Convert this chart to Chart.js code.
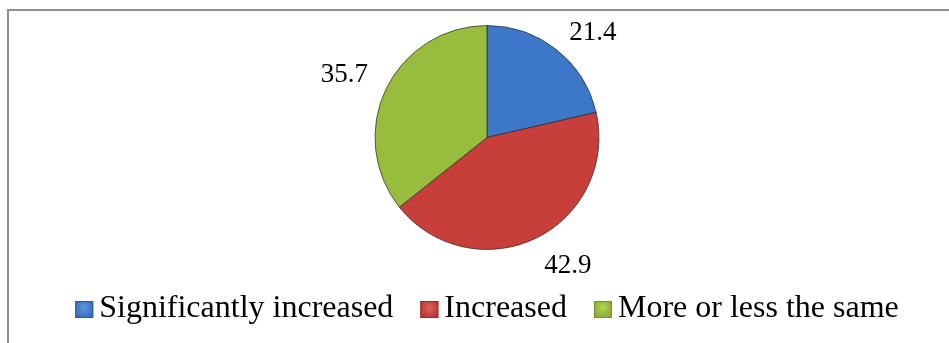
<!DOCTYPE html>
<html>
<head>
<meta charset="utf-8">
<script src="https://cdn.jsdelivr.net/npm/chart.js@4.4.1/dist/chart.umd.min.js"></script>
<style>
  html, body { margin: 0; padding: 0; background: #fff; }
  #wrap { position: relative; width: 949px; height: 343px; overflow: hidden; }
  #frame { position: absolute; left: 7px; top: 9px; width: 980px; height: 380px; border: 2px solid #8e8e8e; }
  #pie { position: absolute; left: 0; top: 0; }
</style>
</head>
<body>
<div id="wrap">
  <div id="frame"></div>
  <canvas id="pie" width="949" height="343"></canvas>
</div>
<script>
// categories and values
var categorias = ["Significantly increased", "Increased", "More or less the same"];
var valores = [21.4, 42.9, 35.7];

// colours: base, light band, dark rim
var colorBase = ["#3d78c8", "#c83e3b", "#98bd3e"];
var colorClaro = ["#5a94e0", "#e05c57", "#b0d452"];
var colorBorde = ["#2c5c9c", "#9c2c2a", "#759630"];

var fuente = "'Liberation Serif', 'Times New Roman', serif";

// gradient fill per slice, centred on the pie
function relleno(ctx) {
    var chart = ctx.chart;
    var i = ctx.dataIndex;
    if (!chart.chartArea || i === undefined) return colorBase[i || 0];
    var arc = chart.getDatasetMeta(0).data[i];
    if (!arc || !arc.outerRadius) return colorBase[i];
    var cx = arc.x, cy = arc.y, r = arc.outerRadius;
    var g = chart.ctx.createRadialGradient(cx, cy, 0, cx, cy, r);
    g.addColorStop(0, colorBase[i]);
    g.addColorStop(0.8, colorBase[i]);
    g.addColorStop(0.92, colorClaro[i]);
    g.addColorStop(0.975, colorBase[i]);
    g.addColorStop(1, colorBorde[i]);
    return g;
}

// value labels just outside each slice
var etiquetas = {
    id: "etiquetas",
    afterDatasetsDraw: function (chart) {
        var ctx = chart.ctx;
        var meta = chart.getDatasetMeta(0);
        var area = chart.chartArea;
        ctx.save();
        ctx.font = "27px " + fuente;
        ctx.fillStyle = "#000";
        ctx.textAlign = "center";
        ctx.textBaseline = "middle";
        meta.data.forEach(function (arc, i) {
            var p = arc.getProps(["x", "y", "startAngle", "endAngle", "outerRadius"], true);
            var mid = (p.startAngle + p.endAngle) / 2;
            var texto = valores[i].toFixed(1);
            var w = ctx.measureText(texto).width;
            var h = 22;
            var d = p.outerRadius + 20;
            var x = p.x + Math.cos(mid) * d + Math.sign(Math.cos(mid)) * w / 2;
            var y = p.y + Math.sin(mid) * d + Math.sin(mid) * h / 2;
            // keep the text inside the plot area
            y = Math.max(y, area.top + 13 + h / 2);
            ctx.fillText(texto, x, y);
        });
        ctx.restore();
    }
};

// legend squares drawn over the item hit boxes
var MARCA = 18;
var marcas = {
    id: "marcas",
    afterDraw: function (chart) {
        var ctx = chart.ctx;
        var cajas = chart.legend.legendHitBoxes;
        ctx.save();
        cajas.forEach(function (b, i) {
            var x = b.left;
            var y = b.top + b.height / 2 - MARCA / 2 + 1;
            var g = ctx.createRadialGradient(x + MARCA / 2, y + MARCA / 3, 1, x + MARCA / 2, y + MARCA / 2, MARCA * 0.75);
            g.addColorStop(0, colorClaro[i]);
            g.addColorStop(1, colorBorde[i]);
            ctx.fillStyle = g;
            ctx.fillRect(x, y, MARCA, MARCA - 1);
            ctx.strokeStyle = colorBorde[i];
            ctx.lineWidth = 1;
            ctx.strokeRect(x + 0.5, y + 0.5, MARCA - 1, MARCA - 2);
        });
        ctx.restore();
    }
};

var grafica = new Chart(document.getElementById("pie"), {
    type: "pie",
    data: {
        labels: categorias,
        datasets: [{
            data: valores,
            backgroundColor: relleno,
            borderColor: "rgba(40,40,40,0.7)",
            borderWidth: 1,
            radius: 112
        }]
    },
    options: {
        responsive: false,
        animation: false,
        layout: { padding: { left: 25, right: 0, top: 9, bottom: 8 } },
        plugins: {
            tooltip: { enabled: false },
            legend: {
                position: "bottom",
                labels: {
                    font: { family: fuente, size: 32 },
                    color: "#000",
                    boxWidth: 8,
                    boxHeight: 17,
                    padding: 27,
                    generateLabels: function (chart) {
                        return categorias.map(function (c, i) {
                            return {
                                text: c,
                                fillStyle: "rgba(0,0,0,0)",
                                strokeStyle: "rgba(0,0,0,0)",
                                lineWidth: 0,
                                index: i
                            };
                        });
                    }
                }
            }
        }
    },
    plugins: [etiquetas, marcas]
});
</script>
</body>
</html>
